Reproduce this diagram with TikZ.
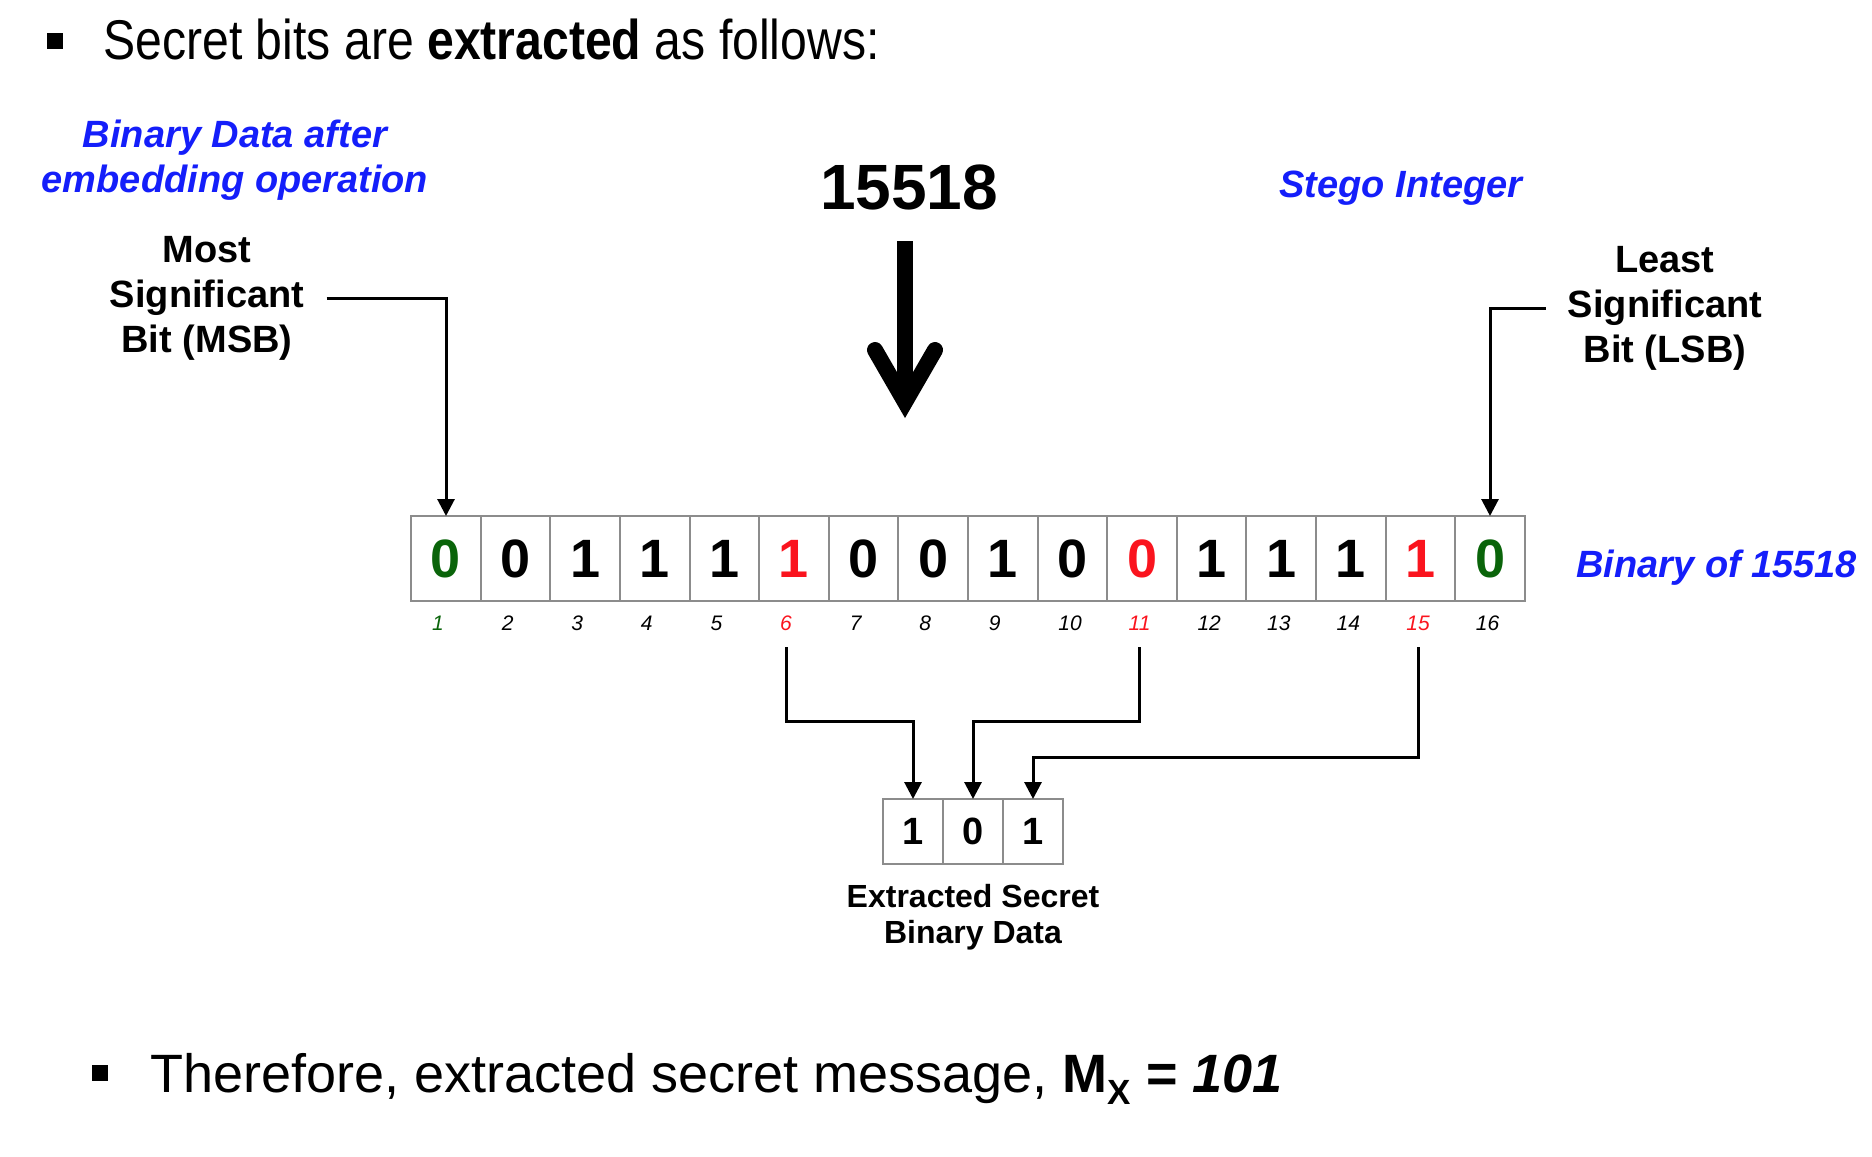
\documentclass[tikz,border=0pt]{standalone}
\usepackage{fontspec}
\setmainfont{Liberation Sans}
\newfontfamily\narrowsans{Liberation Sans}[FakeStretch=0.86]
\usetikzlibrary{arrows.meta,positioning}
\definecolor{bblue}{RGB}{20,30,250}
\definecolor{bred}{RGB}{250,20,30}
\definecolor{bgreen}{RGB}{10,100,10}
\definecolor{boxgray}{RGB}{140,140,140}
\tikzstyle{bitbox} = [draw=boxgray,line width=1pt,rectangle,inner sep=0,outer sep=0,minimum width=34.8pt,minimum height=42.5pt,font=\fontsize{27}{27}\selectfont\bfseries]
\tikzstyle{secbox} = [draw=boxgray,line width=1pt,rectangle,inner sep=0,outer sep=0,minimum width=30pt,minimum height=32.5pt,font=\fontsize{19}{19}\selectfont\bfseries]
\tikzstyle{idx} = [inner xsep=1pt,inner ysep=8.2pt,font=\fontsize{10.5}{10.5}\selectfont\itshape]
\tikzstyle{link} = [-{Triangle[length=8.5pt,width=8.5pt]},line width=1.5pt]
\tikzstyle{bigarrow} = [-{Straight Barb[length=26pt,width=30pt,line cap=round,line join=miter]},line width=8pt]
\tikzstyle{note} = [inner sep=0,text=bblue,font=\fontsize{19}{22.5}\selectfont\bfseries\itshape]
\tikzstyle{callout} = [inner ysep=0,inner xsep=11pt,align=center,font=\fontsize{19}{22.5}\selectfont\bfseries]
\tikzstyle{bullet} = [draw,rectangle,fill=black,minimum size=7.5pt,inner sep=0]
\tikzstyle{textline} = [anchor=base west,inner sep=0]
\def \dn {11pt}
\def \dx {-4pt}
\def \dxx {-1.2pt}

\begin{document}
\begin{tikzpicture}[x=0.5pt,y=-0.5pt]
  \useasboundingbox (0,0) rectangle (1872,1156);
  % headline
  \node[bullet] (bul1) at (54.5,40.5) {};
  \node[textline,font=\narrowsans\fontsize{28}{32}\selectfont] (head) at (103,60) {Secret bits are \textbf{extracted} as follows:};
  % labels
  \node[note,align=center] (after) at (235,160) {Binary Data after\\embedding operation};
  \node[note,anchor=base] (stego) at (1401,197) {Stego Integer};
  \node[anchor=base,inner sep=0,font=\fontsize{32}{32}\selectfont\bfseries] (num) at (909,209) {15518};
  \node[callout] (msb) at (207,298) {Most\\Significant\\Bit (MSB)};
  \node[callout] (lsb) at (1665,308) {Least\\Significant\\Bit (LSB)};
  % bits of the stego integer
  \node[bitbox,text=bgreen] (b1) at (446,558.5) {0};
  \node[bitbox,right=0pt of b1] (b2) {0};
  \node[bitbox,right=0pt of b2] (b3) {1};
  \node[bitbox,right=0pt of b3] (b4) {1};
  \node[bitbox,right=0pt of b4] (b5) {1};
  \node[bitbox,right=0pt of b5,text=bred] (b6) {1};
  \node[bitbox,right=0pt of b6] (b7) {0};
  \node[bitbox,right=0pt of b7] (b8) {0};
  \node[bitbox,right=0pt of b8] (b9) {1};
  \node[bitbox,right=0pt of b9] (b10) {0};
  \node[bitbox,right=0pt of b10,text=bred] (b11) {0};
  \node[bitbox,right=0pt of b11] (b12) {1};
  \node[bitbox,right=0pt of b12] (b13) {1};
  \node[bitbox,right=0pt of b13] (b14) {1};
  \node[bitbox,right=0pt of b14,text=bred] (b15) {1};
  \node[bitbox,right=0pt of b15,text=bgreen] (b16) {0};
  \node[note,anchor=base west] (bin) at ([xshift=25.5pt]b16.base east) {Binary of 15518};
  % positions
  \node[idx,text=bgreen] (n1) at ([xshift=\dx,yshift=-\dn]b1.south) {1};
  \node[idx] (n2) at ([xshift=\dx,yshift=-\dn]b2.south) {2};
  \node[idx] (n3) at ([xshift=\dx,yshift=-\dn]b3.south) {3};
  \node[idx] (n4) at ([xshift=\dx,yshift=-\dn]b4.south) {4};
  \node[idx] (n5) at ([xshift=\dx,yshift=-\dn]b5.south) {5};
  \node[idx,text=bred] (n6) at ([xshift=\dx,yshift=-\dn]b6.south) {6};
  \node[idx] (n7) at ([xshift=\dx,yshift=-\dn]b7.south) {7};
  \node[idx] (n8) at ([xshift=\dx,yshift=-\dn]b8.south) {8};
  \node[idx] (n9) at ([xshift=\dx,yshift=-\dn]b9.south) {9};
  \node[idx] (n10) at ([xshift=\dxx,yshift=-\dn]b10.south) {10};
  \node[idx,text=bred] (n11) at ([xshift=\dxx,yshift=-\dn]b11.south) {11};
  \node[idx] (n12) at ([xshift=\dxx,yshift=-\dn]b12.south) {12};
  \node[idx] (n13) at ([xshift=\dxx,yshift=-\dn]b13.south) {13};
  \node[idx] (n14) at ([xshift=\dxx,yshift=-\dn]b14.south) {14};
  \node[idx,text=bred] (n15) at ([xshift=\dxx,yshift=-\dn]b15.south) {15};
  \node[idx] (n16) at ([xshift=\dxx,yshift=-\dn]b16.south) {16};
  % extracted bits
  \node[secbox] (s1) at (913,831.5) {1};
  \node[secbox,right=0pt of s1] (s2) {0};
  \node[secbox,right=0pt of s2] (s3) {1};
  \node[inner sep=0,align=center,below=10pt of s2,font=\fontsize{16}{18}\selectfont\bfseries] (ext) {Extracted Secret\\Binary Data};
  % arrows
  \draw[bigarrow] ([xshift=-2pt,yshift=-15.5pt]num.south) -- ([xshift=-2pt,yshift=-104pt]num.south);
  \draw[link] (msb.east) -| (b1.north);
  \draw[link] (lsb.west) -| (b16.north);
  \draw[link] (n6.south) |- ([yshift=39pt]s1.north) -- (s1.north);
  \draw[link] (n11.south) |- ([yshift=39pt]s2.north) -- (s2.north);
  \draw[link] (n15.south) |- ([yshift=21pt]s3.north) -- (s3.north);
  % conclusion
  \node[bullet] (bul2) at (99.5,1072.5) {};
  \node[textline,font=\fontsize{27}{32}\selectfont] (concl) at (150,1092) {Therefore, extracted secret message, \textbf{M\raisebox{-6pt}{\fontsize{17.5}{17.5}\selectfont X} = \textit{101}}};
\end{tikzpicture}
\end{document}
